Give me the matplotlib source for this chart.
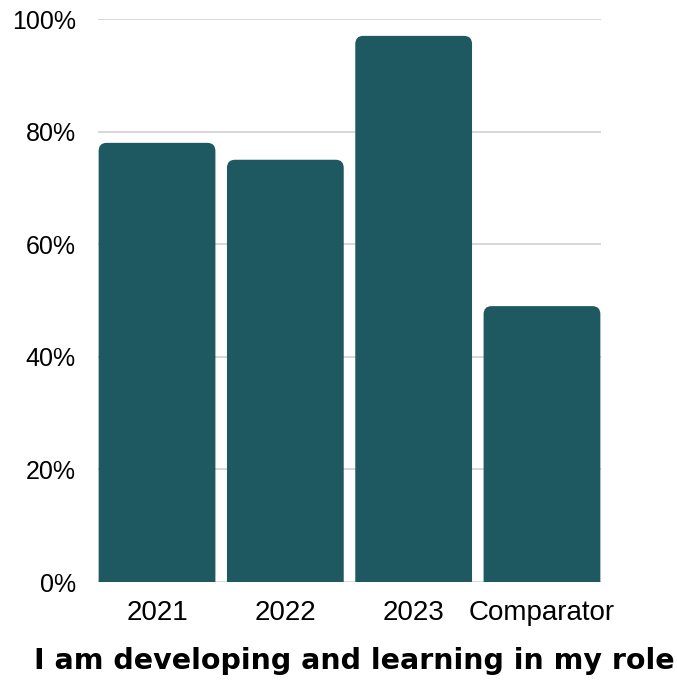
import matplotlib.pyplot as plt
from matplotlib.patches import FancyBboxPatch

categories = ["2021", "2022", "2023", "Comparator"]
values = [78, 75, 97, 49]
yticks = [0, 20, 40, 60, 80, 100]
title = "I am developing and learning in my role"

bar_color = "#1e5860"
grid_color = "#d6d6d6"

fig = plt.figure(figsize=(6.77, 6.80), dpi=100)
ax = fig.add_axes([98 / 677, 98 / 680, 503 / 677, 563 / 680])

x = list(range(len(categories)))
bars = ax.bar(x, values, width=0.91, color=bar_color, zorder=2)
ax.set_xlim(-0.46, 3.46)
ax.set_ylim(0, 100)

# swap the plain bars for ones with rounded top corners; the bottom corners
# sit below the axis and get clipped away
rx = 0.062
ry = 1.45
for b in bars:
    bx, bw, bh = b.get_x(), b.get_width(), b.get_height()
    patch = FancyBboxPatch((bx, -10), bw, bh + 10,
                           boxstyle=f"round,pad=0,rounding_size={rx}",
                           mutation_aspect=ry / rx,
                           facecolor=bar_color, edgecolor="none", zorder=2)
    patch.set_clip_path(ax.patch)
    ax.add_patch(patch)
    b.set_visible(False)

ax.set_yticks(yticks)
ax.set_yticklabels([f"{v}%" for v in yticks])
ax.set_xticks(x)
ax.set_xticklabels(categories)
ax.tick_params(axis="y", length=0, pad=16, labelsize=18)
ax.tick_params(axis="x", length=0, pad=13, labelsize=20)
for lbl in ax.get_xticklabels() + ax.get_yticklabels():
    lbl.set_fontfamily("Liberation Sans")

ax.grid(axis="y", color=grid_color, linewidth=1.3, zorder=0)
ax.set_axisbelow(True)
for s in ax.spines.values():
    s.set_visible(False)

fig.text(0.524, 1 - 661 / 680, title, ha="center", va="center",
         fontsize=20.5, fontweight="bold", family="DejaVu Sans")

fig.savefig("out.png", dpi=100)
